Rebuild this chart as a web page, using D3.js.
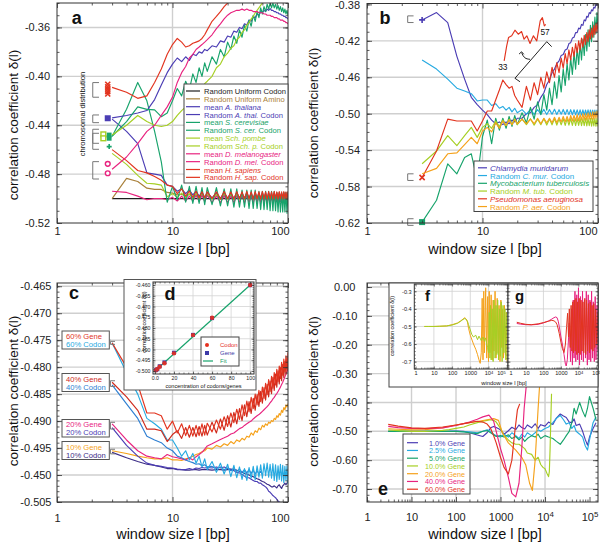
<!DOCTYPE html>
<html><head><meta charset="utf-8">
<script src="https://cdn.jsdelivr.net/npm/d3@7/dist/d3.min.js"></script>
<style>html,body{margin:0;padding:0;background:#fff;}svg{display:block;}</style>
</head><body><svg id="fig" width="600" height="542"></svg>
<script>
// ================= DATA =================
const win = [3,4,5,6,7,8,9,10,11,12,13,14,15,16,17,18,19,20,22,24,26,28,30,32,34,36,38,40,42,44,46,48,50,52,54,56,58,60,62,64,66,68,70,72,74,76,78,80,82,84,86,88,90,92,94,96,98,100,102,104,106,108,110];

// ---- panel a ----
const aUniCodonX = [3, 110];
const aUniCodon = [-0.500, -0.500];
const aUniAmino = [-0.500,-0.4835,-0.486,-0.4915,-0.4925,-0.4925,-0.495,-0.4955,-0.497,-0.4965,
 -0.498,-0.4965,-0.4985,-0.497,-0.4985,-0.4975,-0.499,-0.4975,
 -0.4995,-0.4975,-0.4998,-0.4975,-0.4995,-0.4972,-0.4997,-0.4974,-0.4995,-0.4973,
 -0.4998,-0.4975,-0.4996,-0.4972,-0.4997,-0.4974,-0.4995,-0.4973,-0.4998,-0.4975,
 -0.4996,-0.4972,-0.4997,-0.4974,-0.4995,-0.4973,-0.4998,-0.4975,-0.4996,-0.4972,
 -0.4997,-0.4974,-0.4995,-0.4973,-0.4998,-0.4975,-0.4996,-0.4972,-0.4997,-0.4974,
 -0.4995,-0.4973,-0.4998,-0.4975,-0.4996];
const aMeanAth = [-0.434,-0.432,-0.430,-0.428,-0.419,-0.407,-0.397,-0.390,-0.385,-0.388,
 -0.384,-0.387,-0.382,-0.383,-0.380,-0.381,-0.378,-0.379,
 -0.375,-0.376,-0.371,-0.372,-0.367,-0.368,-0.363,-0.364,-0.360,-0.361,
 -0.357,-0.358,-0.354,-0.355,-0.351,-0.352,-0.349,-0.350,-0.347,-0.348,
 -0.346,-0.347,-0.345,-0.346,-0.3445,-0.346,-0.346,-0.347,-0.347,-0.348,
 -0.348,-0.349,-0.349,-0.350,-0.350,-0.351,-0.351,-0.352,-0.352,-0.353,
 -0.353,-0.354,-0.354,-0.355,-0.355];
const aRandAth = [-0.435,-0.445,-0.455,-0.479,-0.480,-0.481,-0.489,-0.490,-0.494,-0.492,
 -0.496,-0.493,-0.497,-0.494,-0.498,-0.495,-0.499,-0.495,
 -0.4995,-0.4955,-0.4998,-0.4952,-0.4996,-0.4956,-0.4999,-0.4953,-0.4995,-0.4955,
 -0.4998,-0.4952,-0.4996,-0.4956,-0.4999,-0.4953,-0.4995,-0.4955,-0.4998,-0.4952,
 -0.4996,-0.4956,-0.4999,-0.4953,-0.4995,-0.4955,-0.4998,-0.4952,-0.4996,-0.4956,
 -0.4999,-0.4953,-0.4995,-0.4955,-0.4998,-0.4952,-0.4996,-0.4956,-0.4999,-0.4953,
 -0.4995,-0.4955,-0.4998,-0.4952,-0.4996];
const aMeanScer = [-0.449,-0.437,-0.425,-0.427,-0.4275,-0.433,-0.430,-0.420,-0.410,-0.416,
 -0.404,-0.411,-0.398,-0.405,-0.393,-0.400,-0.389,-0.396,
 -0.384,-0.390,-0.378,-0.384,-0.372,-0.378,-0.367,-0.373,-0.362,-0.368,
 -0.358,-0.363,-0.354,-0.359,-0.350,-0.355,-0.347,-0.352,-0.344,-0.349,
 -0.343,-0.347,-0.341,-0.345,-0.340,-0.344,-0.340,-0.344,-0.341,-0.345,
 -0.342,-0.346,-0.343,-0.347,-0.344,-0.348,-0.345,-0.349,-0.346,-0.350,
 -0.347,-0.351,-0.348,-0.352,-0.349];
const aRandScer = [-0.449,-0.427,-0.405,-0.420,-0.445,-0.470,-0.503,-0.490,-0.501,-0.489,
 -0.503,-0.490,-0.504,-0.490,-0.504,-0.491,-0.505,-0.491,
 -0.505,-0.491,-0.506,-0.492,-0.506,-0.492,-0.507,-0.492,-0.507,-0.493,
 -0.507,-0.493,-0.508,-0.493,-0.508,-0.493,-0.508,-0.494,-0.509,-0.494,
 -0.509,-0.494,-0.509,-0.494,-0.510,-0.494,-0.510,-0.494,-0.510,-0.495,
 -0.511,-0.495,-0.511,-0.495,-0.511,-0.495,-0.511,-0.495,-0.512,-0.495,
 -0.512,-0.496,-0.512,-0.496,-0.512];
const aMeanSpo = [-0.448,-0.440,-0.432,-0.437,-0.440,-0.441,-0.440,-0.437,-0.432,-0.428,
 -0.425,-0.421,-0.419,-0.415,-0.412,-0.410,-0.406,-0.404,
 -0.400,-0.393,-0.390,-0.384,-0.381,-0.377,-0.375,-0.370,-0.368,-0.364,
 -0.362,-0.358,-0.356,-0.353,-0.351,-0.348,-0.346,-0.344,-0.342,-0.340,
 -0.338,-0.336];
const aRandSpo = [-0.463,-0.472,-0.481,-0.4875,-0.488,-0.489,-0.4985,-0.496,-0.499,-0.4955,
 -0.4995,-0.496,-0.500,-0.496,-0.500,-0.4965,-0.500,-0.4965,
 -0.5005,-0.4965,-0.5008,-0.4962,-0.5006,-0.4966,-0.5009,-0.4963,-0.5005,-0.4965,
 -0.5008,-0.4962,-0.5006,-0.4966,-0.5009,-0.4963,-0.5005,-0.4965,-0.5008,-0.4962,
 -0.5006,-0.4966,-0.5009,-0.4963,-0.5005,-0.4965,-0.5008,-0.4962,-0.5006,-0.4966,
 -0.5009,-0.4963,-0.5005,-0.4965,-0.5008,-0.4962,-0.5006,-0.4966,-0.5009,-0.4963,
 -0.5005,-0.4965,-0.5008,-0.4962,-0.5006];
const aMeanDme = [-0.476,-0.466,-0.455,-0.445,-0.440,-0.432,-0.425,-0.417,-0.405,-0.397,
 -0.392,-0.385,-0.382,-0.378,-0.376,-0.374,-0.372,-0.370,
 -0.366,-0.361,-0.357,-0.353,-0.350,-0.348,-0.347,-0.346,-0.346,-0.345,
 -0.346,-0.345,-0.346,-0.346,-0.347,-0.347,-0.347,-0.348,-0.348,-0.348,
 -0.349,-0.349,-0.350,-0.350,-0.350,-0.351,-0.351,-0.352,-0.352,-0.352,
 -0.353,-0.353,-0.354,-0.354,-0.354,-0.355,-0.355,-0.356,-0.356,-0.357,
 -0.357,-0.357,-0.358,-0.358,-0.358];
const aRandDme = [-0.494,-0.495,-0.498,-0.501,-0.500,-0.500,-0.501,-0.499,-0.502,-0.498,
 -0.502,-0.498,-0.502,-0.4975,-0.5025,-0.4975,-0.5025,-0.4975,
 -0.5030,-0.4980,-0.5032,-0.4978,-0.5031,-0.4981,-0.5033,-0.4979,-0.5030,-0.4980,
 -0.5032,-0.4978,-0.5031,-0.4981,-0.5033,-0.4979,-0.5030,-0.4980,-0.5032,-0.4978,
 -0.5031,-0.4981,-0.5033,-0.4979,-0.5030,-0.4980,-0.5032,-0.4978,-0.5031,-0.4981,
 -0.5033,-0.4979,-0.5030,-0.4980,-0.5032,-0.4978,-0.5031,-0.4981,-0.5033,-0.4979,
 -0.5030,-0.4980,-0.5032,-0.4978,-0.5031];
const aMeanHsa = [-0.409,-0.413,-0.418,-0.416,-0.405,-0.394,-0.382,-0.374,-0.369,-0.372,
 -0.376,-0.375,-0.373,-0.372,-0.371,-0.369,-0.366,-0.362,
 -0.355,-0.351,-0.347,-0.343,-0.340,-0.336,-0.332];
const aRandHsa = [-0.460,-0.469,-0.477,-0.479,-0.482,-0.485,-0.489,-0.490,-0.496,-0.492,
 -0.498,-0.494,-0.499,-0.494,-0.4995,-0.4945,-0.4995,-0.4945,
 -0.5000,-0.4945,-0.5003,-0.4942,-0.5001,-0.4946,-0.5004,-0.4943,-0.5000,-0.4945,
 -0.5003,-0.4942,-0.5001,-0.4946,-0.5004,-0.4943,-0.5000,-0.4945,-0.5003,-0.4942,
 -0.5001,-0.4946,-0.5004,-0.4943,-0.5000,-0.4945,-0.5003,-0.4942,-0.5001,-0.4946,
 -0.5004,-0.4943,-0.5000,-0.4945,-0.5003,-0.4942,-0.5001,-0.4946,-0.5004,-0.4943,
 -0.5000,-0.4945,-0.5003,-0.4942,-0.5001];
const aNames = ["Random Uniform Codon","Random Uniform Amino","mean *A. thaliana*","Random *A. thal.* Codon",
 "mean *S. cerevisiae*","Random *S. cer.* Codon","mean *Sch. pombe*","Random *Sch. p.* Codon",
 "mean *D. melanogaster*","Random *D. mel.* Codon","mean *H. sapiens*","Random *H. sap.* Codon"];
const aRedX = [-0.4065,-0.4085,-0.4105,-0.4125,-0.4145];
const aBlueSq = [-0.4343];
const aLimeSq = [-0.4475,-0.4507];
const aGreenSq = [-0.4480,-0.4507];
const aGreenPlus = [-0.4575];
const aMagCirc = [-0.4716,-0.4793];
const aBrackets = [[-0.4051,-0.4171],[-0.4316,-0.4379],[-0.4433,-0.4548],[-0.4466,-0.4597],[-0.4698,-0.4840]];
const aYTicks = [-0.36,-0.40,-0.44,-0.48,-0.52];
const aYLabels = ["-0.36","-0.40","-0.44","-0.48","-0.52"];

// ---- panel b ----
const bChla = [-0.397,-0.389,-0.400,-0.437,-0.462,-0.482,-0.490,-0.496,-0.501,-0.507,
 -0.511,-0.509,-0.512,-0.509,-0.511,-0.507,-0.509,-0.505,
 -0.505,-0.500,-0.499,-0.493,-0.490,-0.482,-0.477,-0.468,-0.463,-0.455,
 -0.451,-0.445,-0.442,-0.436,-0.435,-0.430,-0.429,-0.423,-0.422,-0.417,
 -0.416,-0.411,-0.411,-0.406,-0.407,-0.402,-0.403,-0.397,-0.398,-0.393,
 -0.394,-0.389,-0.390,-0.386,-0.387,-0.383,-0.384,-0.380,-0.381,-0.377];
const bRandCmu = [-0.441,-0.451,-0.462,-0.472,-0.475,-0.478,-0.486,-0.485,-0.485,-0.491,
 -0.489,-0.494,-0.492,-0.496,-0.493,-0.498,-0.494,-0.499,
 -0.4955,-0.5005,-0.4952,-0.5008,-0.4956,-0.5006,-0.4953,-0.5009,-0.4955,-0.5005,
 -0.4952,-0.5008,-0.4956,-0.5006,-0.4953,-0.5009,-0.4955,-0.5010,-0.4956,-0.5012,
 -0.4957,-0.5011,-0.4958,-0.5013,-0.4957,-0.5014,-0.4958,-0.5015,-0.4959,-0.5016,
 -0.4958,-0.5017,-0.4959,-0.5018,-0.4960,-0.5019,-0.4960,-0.5020,-0.4960,-0.5020];
const bMyco = [-0.619,-0.595,-0.555,-0.566,-0.548,-0.544,-0.573,-0.525,-0.507,-0.533,
 -0.505,-0.518,-0.505,-0.516,-0.503,-0.514,-0.502,-0.512,
 -0.499,-0.510,-0.493,-0.506,-0.487,-0.501,-0.479,-0.496,-0.472,-0.490,
 -0.465,-0.483,-0.458,-0.476,-0.451,-0.469,-0.445,-0.463,-0.439,-0.457,
 -0.433,-0.451,-0.428,-0.446,-0.423,-0.441,-0.418,-0.436,-0.413,-0.431,
 -0.408,-0.426,-0.403,-0.421,-0.399,-0.416,-0.394,-0.412,-0.389,-0.407];
const bRandMtu = [-0.555,-0.541,-0.524,-0.535,-0.524,-0.515,-0.526,-0.515,-0.511,-0.516,
 -0.508,-0.514,-0.507,-0.513,-0.506,-0.512,-0.506,-0.512,
 -0.5060,-0.5120,-0.5055,-0.5125,-0.5060,-0.5120,-0.5055,-0.5125,-0.5058,-0.5122,
 -0.5055,-0.5125,-0.5058,-0.5122,-0.5055,-0.5128,-0.5056,-0.5125,-0.5053,-0.5128,
 -0.5056,-0.5130,-0.5053,-0.5128,-0.5052,-0.5132,-0.5053,-0.5130,-0.5050,-0.5134,
 -0.5052,-0.5132,-0.5050,-0.5136,-0.5051,-0.5134,-0.5050,-0.5138,-0.5050,-0.5140];
const bPseu = [-0.570,-0.541,-0.506,-0.508,-0.508,-0.508,-0.519,-0.508,-0.497,-0.497,
 -0.485,-0.474,-0.463,-0.468,-0.472,-0.470,-0.480,-0.485,
 -0.493,-0.470,-0.485,-0.466,-0.479,-0.460,-0.472,-0.454,-0.466,-0.449,
 -0.460,-0.444,-0.455,-0.439,-0.450,-0.434,-0.445,-0.430,-0.441,-0.427,
 -0.437,-0.423,-0.433,-0.420,-0.430,-0.417,-0.427,-0.414,-0.424,-0.411,
 -0.421,-0.408,-0.418,-0.406,-0.416,-0.403,-0.413,-0.401,-0.410,-0.399];
const bRandPae = [-0.566,-0.560,-0.544,-0.543,-0.534,-0.526,-0.533,-0.519,-0.515,-0.520,
 -0.510,-0.516,-0.508,-0.513,-0.507,-0.512,-0.506,-0.511,
 -0.506,-0.511,-0.506,-0.511,-0.505,-0.511,-0.505,-0.510,-0.505,-0.510,
 -0.504,-0.510,-0.504,-0.509,-0.503,-0.509,-0.503,-0.509,-0.502,-0.508,
 -0.502,-0.508,-0.501,-0.508,-0.501,-0.507,-0.500,-0.507,-0.500,-0.507,
 -0.499,-0.506,-0.499,-0.506,-0.498,-0.506,-0.498,-0.505,-0.497,-0.505];
const bZoomX = [15.4,16.2,16.8,17.9,19.1,20.4,21.8,22.9,24.2,25.8,27.6,29.5,31.6,33.0,34.3,35.3];
const bZoomY = [-0.4419,-0.4255,-0.4164,-0.4145,-0.4083,-0.4127,-0.4098,-0.4182,-0.4145,-0.4229,-0.4145,-0.4200,-0.3981,-0.3945,-0.4036,-0.4018];
const bNames = ["*Chlamydia muridarum*","Random *C. mur.* Codon","*Mycobacterium tuberculosis*","Random *M. tub.* Codon","*Pseudomonas aeruginosa*","Random *P. aer.* Codon"];
const bBrackets = [[-0.3926,-0.3999],[-0.5660,-0.5733],[-0.6153,-0.6226]];
const bYTicks = [-0.38,-0.42,-0.46,-0.50,-0.54,-0.58,-0.62];
const bYLabels = ["-0.38","-0.42","-0.46","-0.50","-0.54","-0.58","-0.62"];

// ---- panel c ----
const c60g = [-0.4755,-0.4800,-0.4832,-0.4885,-0.4885,-0.4890,-0.4915,-0.4900,-0.4922,-0.4905,
 -0.4927,-0.4908,-0.4928,-0.4908,-0.4927,-0.4905,-0.4926,-0.4904,
 -0.4920,-0.4898,-0.4915,-0.4892,-0.4910,-0.4885,-0.4903,-0.4878,-0.4897,-0.4870,
 -0.4890,-0.4863,-0.4883,-0.4856,-0.4877,-0.4850,-0.4870,-0.4843,-0.4864,-0.4837,
 -0.4858,-0.4830,-0.4851,-0.4823,-0.4845,-0.4817,-0.4839,-0.4810,-0.4833,-0.4804,
 -0.4827,-0.4798,-0.4821,-0.4791,-0.4815,-0.4785,-0.4809,-0.4779,-0.4803,-0.4773,
 -0.4797,-0.4767,-0.4791,-0.4762,-0.4786];
const c40g = [-0.4828,-0.4855,-0.4880,-0.4915,-0.4915,-0.4918,-0.4938,-0.4925,-0.4918,-0.4932,
 -0.4912,-0.4930,-0.4912,-0.4929,-0.4910,-0.4928,-0.4908,-0.4926,
 -0.4902,-0.4922,-0.4896,-0.4917,-0.4890,-0.4911,-0.4884,-0.4905,-0.4877,-0.4899,
 -0.4870,-0.4892,-0.4864,-0.4886,-0.4858,-0.4880,-0.4851,-0.4873,-0.4845,-0.4867,
 -0.4838,-0.4861,-0.4832,-0.4855,-0.4826,-0.4849,-0.4819,-0.4843,-0.4813,-0.4837,
 -0.4807,-0.4831,-0.4801,-0.4825,-0.4795,-0.4819,-0.4789,-0.4813,-0.4783,-0.4807,
 -0.4777,-0.4801,-0.4772,-0.4796,-0.4767];
const c60c = [-0.4755,-0.4810,-0.4850,-0.4895,-0.4905,-0.4915,-0.4935,-0.4935,-0.4950,-0.4965,
 -0.4955,-0.4972,-0.4960,-0.4978,-0.4965,-0.4985,-0.4970,-0.4990,
 -0.4975,-0.4995,-0.4978,-0.4998,-0.4980,-0.5003,-0.4982,-0.5005,-0.4985,-0.5008,
 -0.4988,-0.5010,-0.4986,-0.5006,-0.4984,-0.5009,-0.4983,-0.5004,-0.4981,-0.5006,
 -0.4979,-0.5001,-0.4978,-0.5004,-0.4980,-0.5006,-0.4979,-0.5010,-0.4981,-0.5012,
 -0.4983,-0.5008,-0.4980,-0.5011,-0.4982,-0.5014,-0.4984,-0.5010,-0.4983,-0.5015,
 -0.4986,-0.5012,-0.4988,-0.5016,-0.4990];
const c40c = [-0.4833,-0.4868,-0.4895,-0.4928,-0.4935,-0.4940,-0.4950,-0.4955,-0.4965,-0.4968,
 -0.4972,-0.4975,-0.4977,-0.4980,-0.4979,-0.4983,-0.4981,-0.4985,
 -0.4984,-0.4988,-0.4985,-0.4990,-0.4987,-0.4992,-0.4988,-0.4993,-0.4989,-0.4995,
 -0.4990,-0.4996,-0.4990,-0.4997,-0.4991,-0.4998,-0.4992,-0.4998,-0.4993,-0.4999];
const c20g = [-0.4905,-0.4935,-0.4955,-0.4965,-0.4968,-0.4970,-0.4962,-0.4966,-0.4968,-0.4970,
 -0.4972,-0.4968,-0.4972,-0.4966,-0.4962,-0.4958,-0.4952,-0.4946,
 -0.4942,-0.4938,-0.4934,-0.4931,-0.4928,-0.4924,-0.4922,-0.4918,-0.4914,-0.4912,
 -0.4908,-0.4905,-0.4902,-0.4900,-0.4896,-0.4893,-0.4890,-0.4888,-0.4885,-0.4882,
 -0.4879,-0.4876,-0.4873,-0.4870,-0.4866,-0.4863,-0.4859,-0.4856,-0.4852,-0.4849,
 -0.4845,-0.4841,-0.4837,-0.4832,-0.4828,-0.4823,-0.4818,-0.4813,-0.4808,-0.4803,
 -0.4798,-0.4793,-0.4790,-0.4786,-0.4782];
const c20c = [-0.4912,-0.4945,-0.4965,-0.4978,-0.4982,-0.4984,-0.4986,-0.4987,-0.4989,-0.4990,
 -0.4990,-0.4988,-0.4990,-0.4987,-0.4988,-0.4986,-0.4987,-0.4986,
 -0.4987,-0.4985,-0.4987,-0.4985,-0.4988,-0.4990,-0.4992,-0.4995,-0.4996,-0.4999,
 -0.5002,-0.5005,-0.5005,-0.5008,-0.5010,-0.5012,-0.5012,-0.5015,-0.5015,-0.5018,
 -0.5020,-0.5022,-0.5025,-0.5030,-0.5032,-0.5035,-0.5038,-0.5040,-0.5042,-0.5045,
 -0.5048,-0.5050,-0.5055,-0.5060,-0.5065];
const c10g = [-0.4955,-0.4960,-0.4965,-0.4968,-0.4970,-0.4970,-0.4968,-0.4972,-0.4972,-0.4973,
 -0.4970,-0.4968,-0.4965,-0.4962,-0.4960,-0.4957,-0.4955,-0.4950,
 -0.4952,-0.4945,-0.4948,-0.4942,-0.4945,-0.4938,-0.4942,-0.4935,-0.4938,-0.4932,
 -0.4935,-0.4928,-0.4930,-0.4922,-0.4926,-0.4918,-0.4921,-0.4913,-0.4916,-0.4908,
 -0.4911,-0.4905,-0.4908,-0.4902,-0.4904,-0.4899,-0.4901,-0.4895,-0.4897,-0.4890,
 -0.4893,-0.4886,-0.4889,-0.4880,-0.4884,-0.4875,-0.4879,-0.4870,-0.4874,-0.4868,
 -0.4872,-0.4870,-0.4874,-0.4872,-0.4876];
const c10c = [-0.4958,-0.4968,-0.4975,-0.4980,-0.4982,-0.4985,-0.4988,-0.4988,-0.4990,-0.4990,
 -0.4991,-0.4991,-0.4990,-0.4990,-0.4991,-0.4990,-0.4990,-0.4990,
 -0.4991,-0.4990,-0.4990,-0.4991,-0.4990,-0.4989,-0.4990,-0.4991,-0.4993,-0.4995,
 -0.4997,-0.4998,-0.5000,-0.5002,-0.5003,-0.5005,-0.5007,-0.5008,-0.5010,-0.5012,
 -0.5013,-0.5015,-0.5017,-0.5018,-0.5020,-0.5022,-0.5022,-0.5020,-0.5022,-0.5024,
 -0.5020,-0.5018,-0.5022,-0.5025,-0.5020,-0.5018,-0.5015,-0.5018,-0.5015,-0.5012,
 -0.5014,-0.5016,-0.5013,-0.5015,-0.5012];
const cYTicks = [-0.465,-0.470,-0.475,-0.480,-0.485,-0.490,-0.495,-0.500,-0.505];
const cYLabels = ["-0.465","-0.470","-0.475","-0.480","-0.485","-0.490","-0.495","-0.450","-0.505"];

// ---- panel d ----
const dConc = [1, 2.5, 5, 10, 20, 40, 60, 100];
const dCodon = [-0.4997,-0.4991,-0.4980,-0.4964,-0.4918,-0.4833,-0.4752,-0.4600];
const dGene = [-0.4996,-0.4992,-0.4978,-0.4960,-0.4915,-0.4832,-0.4754,-0.4601];
const dFitX = [0, 100];
const dFitY = [-0.500, -0.460];
const dYTicks = [-0.460,-0.465,-0.470,-0.475,-0.480,-0.485,-0.490,-0.495,-0.500];
const dYLabels = ["-0.460","-0.465","-0.470","-0.475","-0.480","-0.485","-0.490","-0.495","-0.500"];
const dXTicks = [0,20,40,60,80,100];
const dXLabels = ["0.0","20","40","60","80","100"];

// ---- panel e ----
const eXn = [3,5,10,20,50,100,150,200,300,400,500,600,700,800,1000,1200,1500,1800,2200,2600,3000,3500,4000,5000,6000,7000,8000,10000,12000,15000,18000,22000,26000,30000,35000,40000,45000,50000,60000,70000,80000,90000,100000,120000,140000];
const e1 = [-0.500,-0.500,-0.500,-0.500,-0.500,-0.499,-0.500,-0.505,-0.513,-0.518,
 -0.505,-0.488,-0.483,-0.487,-0.495,-0.510,-0.498,-0.486,-0.494,-0.478,
 -0.487,-0.492,-0.478,-0.488,-0.474,-0.490,-0.477,-0.482,-0.468,-0.476,
 -0.454,-0.440,-0.447,-0.452,-0.468,-0.470,-0.457,-0.480,-0.475,-0.500,
 -0.528,-0.548,-0.520,-0.490,-0.470];
const e2 = [-0.500,-0.500,-0.500,-0.500,-0.500,-0.500,-0.501,-0.502,-0.505,-0.500,
 -0.495,-0.500,-0.510,-0.515,-0.520,-0.510,-0.520,-0.505,-0.515,-0.525,
 -0.510,-0.520,-0.505,-0.515,-0.505,-0.495,-0.500,-0.490,-0.485,-0.470,
 -0.455,-0.445,-0.460,-0.475,-0.470,-0.490,-0.480,-0.500,-0.510,-0.520,
 -0.550,-0.565,-0.530,-0.470,-0.450];
const e3 = [-0.500,-0.500,-0.500,-0.500,-0.500,-0.500,-0.502,-0.505,-0.508,-0.500,
 -0.497,-0.505,-0.512,-0.518,-0.515,-0.520,-0.512,-0.525,-0.518,-0.530,
 -0.520,-0.535,-0.525,-0.515,-0.520,-0.510,-0.525,-0.515,-0.520,-0.525,
 -0.535,-0.545,-0.530,-0.515,-0.500,-0.470,-0.420,-0.440,-0.400,-0.430,
 -0.450,-0.420,-0.380,-0.420,-0.460];
const e4X = [3,5,10,20,30,50,70,100,150,200,300,400,500,600,700,800,1000,1200,1500,1800,2200,2600,3000,3500,4000,5000,6000,7000,8000,9000,10000,11000,12000,12500,13000,13500,14000];
const e4 = [-0.4955,-0.4975,-0.500,-0.500,-0.499,-0.497,-0.494,-0.490,-0.485,-0.478,
 -0.470,-0.465,-0.462,-0.460,-0.462,-0.468,-0.490,-0.515,-0.530,-0.540,
 -0.545,-0.545,-0.552,-0.560,-0.575,-0.580,-0.600,-0.590,-0.615,-0.625,
 -0.630,-0.645,-0.657,-0.640,-0.560,-0.460,-0.370];
const e5X = [3,5,10,20,50,100,200,300,500,700,900,1100,1500,2200,3000,3700,4500,5200,6000,7000,7600];
const e5 = [-0.491,-0.493,-0.495,-0.494,-0.488,-0.478,-0.470,-0.466,-0.460,-0.456,
 -0.462,-0.505,-0.540,-0.565,-0.590,-0.617,-0.680,-0.705,-0.600,-0.420,-0.335];
const e6X = [3,5,10,20,50,100,200,300,400,550,700,800,1000,1200,1500,1800,2200,2600,3000,3400,3800];
const e6 = [-0.483,-0.487,-0.490,-0.491,-0.488,-0.480,-0.468,-0.458,-0.450,-0.444,
 -0.465,-0.500,-0.560,-0.600,-0.660,-0.715,-0.727,-0.680,-0.560,-0.420,-0.340];
const e7X = [3,5,10,20,50,100,200,300,400,500,600,700,800,1000,1200,1500,1800,2100,2400,2700];
const e7 = [-0.476,-0.482,-0.488,-0.490,-0.485,-0.478,-0.470,-0.465,-0.468,-0.475,
 -0.490,-0.515,-0.540,-0.590,-0.625,-0.648,-0.600,-0.500,-0.425,-0.405];
const eNames = ["1.0% Gene","2.5% Gene","5.0% Gene","10.0% Gene","20.0% Gene","40.0% Gene","60.0% Gene"];
const eYTicks = [0,-0.1,-0.2,-0.3,-0.4,-0.5,-0.6,-0.7];
const eYLabels = ["0.00","-0.10","-0.20","-0.30","-0.40","-0.50","-0.60","-0.70"];
const logTicks = [1,10,100,1000,1e4,1e5];
const logLabels = ["1","10","100","1000","10^4","10^5"];

// ---- insets f, g ----
const fX10 = [3,5,10,20,50,100,200,300,400,500,600,700,800,1000,1200,1500,2000,2500,3000,4000,5000,6000,7000,8000,9000,10000,11000,12000,13000,14000,16000,18000,20000,23000,26000,29000,32000,36000,40000,45000,50000,56000,63000,70000,80000,90000,100000];
const f10 = [-0.500,-0.500,-0.500,-0.499,-0.497,-0.492,-0.482,-0.470,-0.460,-0.455,
 -0.460,-0.470,-0.490,-0.520,-0.545,-0.560,-0.550,-0.575,-0.555,-0.580,
 -0.560,-0.585,-0.565,-0.600,-0.620,-0.650,-0.420,-0.680,-0.380,-0.690,
 -0.400,-0.700,-0.350,-0.680,-0.380,-0.660,-0.350,-0.690,-0.400,-0.670,
 -0.360,-0.700,-0.380,-0.650,-0.400,-0.690,-0.420];
const fX20 = [3,5,10,20,50,100,200,300,400,500,600,700,800,1000,1500,2000,2500,3000,3500,4000,4500,5000,5500,6000,7000,8000,9000,10000,11000,12000,14000,16000,18000,20000,23000,26000,30000,34000,38000,43000,48000,54000,60000,67000,75000,85000,95000,105000];
const f20 = [-0.500,-0.500,-0.500,-0.499,-0.497,-0.490,-0.480,-0.468,-0.458,-0.450,
 -0.458,-0.475,-0.510,-0.550,-0.600,-0.630,-0.660,-0.690,-0.710,-0.650,
 -0.340,-0.690,-0.300,-0.650,-0.280,-0.680,-0.330,-0.700,-0.300,-0.650,
 -0.320,-0.690,-0.350,-0.640,-0.300,-0.680,-0.340,-0.650,-0.380,-0.700,
 -0.350,-0.620,-0.400,-0.680,-0.380,-0.660,-0.420,-0.700];
const gX40 = [3,5,10,20,50,100,200,300,400,500,600,700,800,1000,1200,1500,1800,2000,2300,2600,3000,3500,4000,4500,5000,5600,6300,7000,8000,9000,10000,11500,13000,15000,17000,19000,22000,25000,28000,32000,36000,40000,45000,50000,56000,63000,70000,80000,90000,100000,115000,130000];
const g40 = [-0.483,-0.487,-0.490,-0.491,-0.488,-0.480,-0.468,-0.458,-0.450,-0.446,
 -0.450,-0.470,-0.500,-0.560,-0.600,-0.660,-0.715,-0.725,-0.690,-0.600,
 -0.480,-0.700,-0.400,-0.720,-0.350,-0.680,-0.300,-0.700,-0.320,-0.690,
 -0.280,-0.720,-0.330,-0.690,-0.300,-0.700,-0.350,-0.680,-0.300,-0.720,
 -0.320,-0.690,-0.350,-0.700,-0.300,-0.680,-0.360,-0.700,-0.330,-0.690,
 -0.380,-0.640];
const gX60 = [3,5,10,20,50,100,200,300,400,500,600,700,800,1000,1200,1500,1800,2100,2400,2700,3000,3400,3800,4200,4700,5200,5800,6500,7200,8000,9000,10000,11000,12500,14000,16000,18000,20000,23000,26000,29000,33000,37000,42000,47000,53000,60000,67000,75000,85000,95000,110000,125000];
const g60 = [-0.476,-0.482,-0.488,-0.490,-0.485,-0.478,-0.470,-0.465,-0.468,-0.475,
 -0.490,-0.515,-0.540,-0.590,-0.625,-0.648,-0.600,-0.500,-0.425,-0.560,
 -0.400,-0.620,-0.380,-0.640,-0.360,-0.650,-0.350,-0.640,-0.340,-0.660,
 -0.360,-0.650,-0.340,-0.660,-0.350,-0.640,-0.360,-0.650,-0.340,-0.660,
 -0.350,-0.640,-0.370,-0.650,-0.360,-0.630,-0.380,-0.640,-0.370,-0.620,
 -0.400,-0.600,-0.420];
const fYTicks = [-0.3,-0.4,-0.5,-0.6,-0.7];
const fYLabels = ["-0.3","-0.4","-0.5","-0.6","-0.7"];

// ================= DRAWING =================
const C = {black:'#1e1e1e', brown:'#a9803a', indigo:'#4b3db4', green:'#17a36b', lime:'#a6cf24',
  magenta:'#e8237f', red:'#e2341f', cyan:'#27aae1', orange:'#f5a11a', blue:'#2e7fd2', navy:'#3b2c86'};
const FONT = '"Liberation Sans", Arial, Helvetica, sans-serif';
const svg = d3.select('#fig');
const defs = svg.append('defs');
let clipN = 0;

function panel(o){
  const x = (o.log ? d3.scaleLog() : d3.scaleLinear()).domain(o.xd).range([o.l, o.r]);
  const y = d3.scaleLinear().domain(o.yd).range([o.b, o.t]);
  const g = svg.append('g');
  g.append('rect').attr('x',o.l).attr('y',o.t).attr('width',o.r-o.l).attr('height',o.b-o.t).attr('fill','#fff');
  const grid = g.append('g').attr('stroke', o.gc || '#cfcfcf').attr('stroke-width', o.gw || 1.4);
  grid.selectAll('line.gx').data(o.gx || []).join('line').attr('class','gx')
    .attr('x1',d=>x(d)).attr('x2',d=>x(d)).attr('y1',o.t).attr('y2',o.b);
  grid.selectAll('line.gy').data(o.gy || []).join('line').attr('class','gy')
    .attr('y1',d=>y(d)).attr('y2',d=>y(d)).attr('x1',o.l).attr('x2',o.r);
  const id = 'clip' + (clipN++);
  defs.append('clipPath').attr('id', id).append('rect').attr('x',o.l).attr('y',o.t).attr('width',o.r-o.l).attr('height',o.b-o.t);
  const plot = g.append('g').attr('clip-path', `url(#${id})`);
  return {x, y, g, plot, o};
}

function series(p, xs, ys, color, w){
  const n = Math.min(xs.length, ys.length);
  const pts = d3.range(n).map(i => [xs[i], ys[i]]);
  p.plot.append('path').datum(pts).attr('fill','none').attr('stroke',color)
    .attr('stroke-width', w || 1.15).attr('stroke-linejoin','round')
    .attr('d', d3.line().x(d=>p.x(d[0])).y(d=>p.y(d[1])));
}

function axes(p){
  const {x, y, o} = p;
  const a = p.g.append('g').attr('color', o.ac || '#333');
  const major = o.major || 5, minor = o.minor || 2.5;
  const xMinor = o.log ? x.ticks().filter(v => !o.xTicks.some(t => Math.abs(t - v) < 1e-9 * t)) : (o.xMinor || []);
  const yMinor = o.yMinor || [];
  const mk = (fn, scale, vals, size, tr, labels, pad) => {
    const ax = fn(scale).tickValues(vals).tickSize(-size).tickPadding(pad || 3)
      .tickFormat(labels ? (d, i) => labels[i] : () => '');
    const gg = a.append('g').attr('transform', tr).call(ax);
    gg.select('.domain').remove();
    gg.attr('font-size', o.fs).attr('font-family', FONT);
    gg.selectAll('line').attr('stroke-width', o.tw || 0.8);
    gg.selectAll('text').attr('fill', '#222');
    return gg;
  };
  const bx = mk(d3.axisBottom, x, o.xTicks, major, `translate(0,${o.b})`, o.xLabels, o.xPad);
  mk(d3.axisBottom, x, xMinor, minor, `translate(0,${o.b})`);
  mk(d3.axisTop, x, o.xTicks, major, `translate(0,${o.t})`);
  mk(d3.axisTop, x, xMinor, minor, `translate(0,${o.t})`);
  const ly = mk(d3.axisLeft, y, o.yTicks, major, `translate(${o.l},0)`, o.yLabels, o.yPad);
  mk(d3.axisLeft, y, yMinor, minor, `translate(${o.l},0)`);
  mk(d3.axisRight, y, o.yTicks, major, `translate(${o.r},0)`);
  mk(d3.axisRight, y, yMinor, minor, `translate(${o.r},0)`);
  if (o.xLabels) {
    const texts = bx.selectAll('text');
    const n = texts.size();
    texts.each(function(d, i){
      const s = o.xLabels[i];
      const t = d3.select(this);
      if (s && s.includes('^')) {
        const parts = s.split('^');
        t.text(parts[0]);
        t.append('tspan').attr('dy', '-0.45em').attr('font-size', o.fs * 0.72).text(parts[1]);
      }
      if (o.lastEnd && i === n - 1) t.attr('text-anchor', 'end').attr('x', o.lastEnd);
      if (o.firstStart && i === 0) t.attr('text-anchor', 'start').attr('x', o.firstStart);
    });
  }
  if (o.yAnchor) ly.selectAll('text').attr('text-anchor', o.yAnchor).attr('x', o.yAnchorX);
  if (o.yTopShift) ly.selectAll('text').filter(d => y(d) < o.t + 4).attr('dy', null).attr('y', o.yTopShift);
  a.append('rect').attr('x',o.l).attr('y',o.t).attr('width',o.r-o.l).attr('height',o.b-o.t)
    .attr('fill','none').attr('stroke', o.fc || '#333').attr('stroke-width', o.fw || 1);
}

function rich(parent, x, y, str, o){
  const t = parent.append('text').attr('x', x).attr('y', y).attr('font-size', o.fs)
    .attr('font-family', FONT).attr('fill', o.color || '#000').attr('text-anchor', o.anchor || 'start')
    .attr('dominant-baseline', 'central');
  if (o.weight) t.attr('font-weight', o.weight);
  str.split('*').forEach((seg, i) => { if (seg) t.append('tspan').attr('font-style', i % 2 ? 'italic' : 'normal').text(seg); });
  return t;
}

function legend(box, items, o){
  const g = svg.append('g');
  g.append('rect').attr('x', box[0]).attr('y', box[1]).attr('width', box[2]-box[0]).attr('height', box[3]-box[1])
    .attr('fill', '#fff').attr('stroke', '#444').attr('stroke-width', 1);
  items.forEach((it, i) => {
    const yy = o.y0 + i * o.dy;
    if (it.mark === 'circle') g.append('circle').attr('cx', o.mx).attr('cy', yy).attr('r', 2).attr('fill', it.color);
    else if (it.mark === 'square') g.append('rect').attr('x', o.mx-2).attr('y', yy-2).attr('width', 4).attr('height', 4).attr('fill', it.color);
    else g.append('line').attr('x1', o.l1).attr('x2', o.l2).attr('y1', yy).attr('y2', yy).attr('stroke', it.color).attr('stroke-width', 1.2);
    rich(g, o.tx, yy, it.label, {fs: o.fs, color: it.tc || it.color, anchor: o.anchor});
  });
}

function mark(p, xv, yv, type, color, s){
  const cx = p.x(xv), cy = p.y(yv);
  const g = p.g;
  if (type === 'x') g.append('path').attr('d', `M${cx-s},${cy-s}L${cx+s},${cy+s}M${cx-s},${cy+s}L${cx+s},${cy-s}`).attr('stroke', color).attr('stroke-width', 1.6);
  else if (type === '+') g.append('path').attr('d', `M${cx-s},${cy}L${cx+s},${cy}M${cx},${cy-s}L${cx},${cy+s}`).attr('stroke', color).attr('stroke-width', 1.6);
  else if (type === 'sq') g.append('rect').attr('x', cx-s).attr('y', cy-s).attr('width', 2*s).attr('height', 2*s).attr('fill', color);
  else if (type === 'osq') g.append('rect').attr('x', cx-s).attr('y', cy-s).attr('width', 2*s).attr('height', 2*s).attr('fill', '#fff').attr('stroke', color).attr('stroke-width', 1.4);
  else if (type === 'oc') g.append('circle').attr('cx', cx).attr('cy', cy).attr('r', s).attr('fill', '#fff').attr('stroke', color).attr('stroke-width', 1.4);
  else if (type === 'c') g.append('circle').attr('cx', cx).attr('cy', cy).attr('r', s).attr('fill', color);
}

function brackets(p, ranges, xv, xa, color){
  ranges.forEach(r => {
    const x0 = p.x(xv), x1 = p.x(xa), y0 = p.y(r[0]), y1 = p.y(r[1]);
    p.g.append('path').attr('d', `M${x1},${y0}H${x0}V${y1}H${x1}`).attr('fill', 'none').attr('stroke', color).attr('stroke-width', 1);
  });
}

function label(x, y, txt, fs, opts){
  const t = svg.append('text').attr('x', x).attr('y', y).attr('font-size', fs).attr('font-family', FONT)
    .attr('text-anchor', (opts && opts.anchor) || 'middle').attr('fill', '#111').text(txt);
  if (opts && opts.rot) t.attr('transform', `rotate(-90,${x},${y})`);
  if (opts && opts.bold) t.attr('font-weight', 'bold');
  return t;
}

// ---------- Panel a ----------
const pa = panel({log:true, xd:[1,100], yd:[-0.52,-0.34], l:57, r:288, t:3, b:223, gx:[10], gy:[-0.36,-0.40,-0.44,-0.48],
  xTicks:[1,10,100], xLabels:["1","10","100"], yTicks:aYTicks, yLabels:aYLabels, yMinor:d3.range(-0.52,-0.339,0.01),
  fs:11, xPad:4.5, yPad:7, lastEnd:1});
const aCols = [C.black, C.brown, C.indigo, C.indigo, C.green, C.green, C.lime, C.lime, C.magenta, C.magenta, C.red, C.red];
series(pa, aUniCodonX, aUniCodon, C.black);
series(pa, win, aUniAmino, C.brown);
series(pa, win, aRandAth, C.indigo);
series(pa, win, aRandSpo, C.lime);
series(pa, win, aRandDme, C.magenta);
series(pa, win, aRandScer, C.green);
series(pa, win, aRandHsa, C.red);
series(pa, win, aMeanAth, C.indigo);
series(pa, win, aMeanScer, C.green);
series(pa, win, aMeanSpo, C.lime);
series(pa, win, aMeanDme, C.magenta);
series(pa, win, aMeanHsa, C.red);
brackets(pa, aBrackets, 2.04, 2.31, '#777');
aRedX.forEach(v => mark(pa, 2.75, v, 'x', C.red, 2.5));
aBlueSq.forEach(v => mark(pa, 2.75, v, 'sq', C.indigo, 3));
aLimeSq.forEach(v => mark(pa, 2.52, v, 'osq', C.lime, 2.4));
aGreenSq.forEach(v => mark(pa, 2.83, v, 'sq', C.green, 2.4));
aGreenPlus.forEach(v => mark(pa, 2.83, v, '+', C.green, 2.5));
aMagCirc.forEach(v => mark(pa, 2.75, v, 'oc', C.magenta, 2.4));
legend([184, 84, 288, 183], aNames.map((n, i) => ({label:n, color:aCols[i]})),
  {y0:91, dy:7.85, l1:186, l2:200, tx:204, fs:7.6});
axes(pa);
label(82, 114, 'chromosomal distribution', 7.6, {rot:true}).attr('dominant-baseline','central');

// ---------- Panel b ----------
const pb = panel({log:true, xd:[1,100], yd:[-0.62,-0.379], l:367, r:598, t:3.5, b:223, gx:[10], gy:[-0.42,-0.46,-0.50,-0.54,-0.58],
  xTicks:[1,10,100], xLabels:["1","10","100"], yTicks:bYTicks, yLabels:bYLabels, yMinor:d3.range(-0.62,-0.379,0.01),
  fs:11, xPad:4.5, yPad:7, lastEnd:-1, yTopShift:4});
const bCols = [C.indigo, C.cyan, C.green, C.lime, C.red, C.orange];
series(pb, win, bChla, C.indigo);
series(pb, win, bRandCmu, C.cyan);
series(pb, win, bMyco, C.green);
series(pb, win, bRandMtu, C.lime);
series(pb, win, bPseu, C.red);
series(pb, win, bRandPae, C.orange);
series(pb, bZoomX, bZoomY, C.red);
brackets(pb, bBrackets, 2.25, 2.53, '#777');
mark(pb, 3, bChla[0], '+', C.indigo, 3);
mark(pb, 3, bPseu[0], 'x', C.red, 2.6);
mark(pb, 3, bMyco[0], 'sq', C.green, 3);
pb.g.append('path').datum([[21.1,-0.4649],[19.1,-0.4611],[36.0,-0.4209],[39.7,-0.4264]])
  .attr('fill','none').attr('stroke','#222').attr('stroke-width',1)
  .attr('d', d3.line().x(d=>pb.x(d[0])).y(d=>pb.y(d[1])));
pb.g.append('path').datum([[25.8,-0.4403],[23.0,-0.4395],[21.8,-0.4330]])
  .attr('fill','none').attr('stroke','#222').attr('stroke-width',1)
  .attr('d', d3.line().curve(d3.curveBasis).x(d=>pb.x(d[0])).y(d=>pb.y(d[1])));
pb.g.append('path').attr('d', `M${pb.x(21.8)-2.5},${pb.y(-0.4345)}L${pb.x(21.8)},${pb.y(-0.4320)}L${pb.x(21.8)+2.2},${pb.y(-0.4348)}`)
  .attr('fill','none').attr('stroke','#222').attr('stroke-width',1);
legend([474, 161, 593, 211.5], bNames.map((n, i) => ({label:n, color:bCols[i]})),
  {y0:167.8, dy:7.75, l1:478, l2:487, tx:490, fs:8});
axes(pb);
label(pb.x(15.0), pb.y(-0.4487) + 3, '33', 8.4);
label(pb.x(34.8), pb.y(-0.4103) + 3, '57', 8.4);

// ---------- Panel c ----------
const pc = panel({log:true, xd:[1,100], yd:[-0.505,-0.4644], l:57, r:288, t:283, b:502, gx:[10], gy:cYTicks,
  xTicks:[1,10,100], xLabels:["1","10","100"], yTicks:cYTicks, yLabels:cYLabels, yMinor:d3.range(-0.505,-0.4644,0.001),
  fs:11, xPad:12, yPad:5.5, lastEnd:1});
series(pc, win, c10c, C.navy);
series(pc, win, c10g, C.orange);
series(pc, win, c20c, C.indigo);
series(pc, win, c20g, C.magenta);
series(pc, win, c40c, C.blue);
series(pc, win, c60c, C.cyan);
series(pc, win, c40g, '#cf2a1c');
series(pc, win, c60g, C.red);
const cBoxes = [
  {t:331, b:349, names:["60% Gene","60% Codon"], cols:[C.red, C.cyan], s:[c60g[0], c60c[0]]},
  {t:373.5, b:391.5, names:["40% Gene","40% Codon"], cols:['#cf2a1c', C.blue], s:[c40g[0], c40c[0]]},
  {t:419.5, b:437, names:["20% Gene","20% Codon"], cols:[C.magenta, C.indigo], s:[c20g[0], c20c[0]]},
  {t:441.5, b:459.5, names:["10% Gene","10% Codon"], cols:[C.orange, C.navy], s:[c10g[0], c10c[0]]}
];
axes(pc);
cBoxes.forEach(bx => {
  const g = svg.append('g');
  g.append('rect').attr('x', 62).attr('y', bx.t).attr('width', 47.3).attr('height', bx.b - bx.t)
    .attr('fill', '#fff').attr('stroke', '#555').attr('stroke-width', 1);
  const mid = (bx.t + bx.b) / 2;
  rich(g, 66, mid - 3.9, bx.names[0], {fs:7.6, color:bx.cols[0]});
  rich(g, 66, mid + 4.1, bx.names[1], {fs:7.6, color:bx.cols[1]});
  const ya = Math.min(pc.y(bx.s[0]), pc.y(bx.s[1])) - 1.5, yb = Math.max(pc.y(bx.s[0]), pc.y(bx.s[1])) + 1.5;
  const xv = pc.x(2.9), xa = pc.x(3.18);
  g.append('path').attr('d', `M109.3,${mid}H${xv}M${xa},${ya}H${xv}V${yb}H${xa}`).attr('fill','none').attr('stroke','#777').attr('stroke-width',1);
});

// ---------- Panel d (inset) ----------
svg.append('rect').attr('x', 124).attr('y', 279.5).attr('width', 132).attr('height', 110.5).attr('fill', '#fff').attr('stroke', '#555').attr('stroke-width', 1);
const pd = panel({log:false, xd:[-2,104], yd:[-0.5014,-0.4586], l:153, r:254, t:282, b:374, gx:dXTicks, gy:dYTicks, gw:0.8, gc:'#d4d4d4',
  xTicks:dXTicks, xLabels:dXLabels, yTicks:dYTicks, yLabels:dYLabels, fs:5.2, xPad:2.2, yPad:2.5, major:2.5, minor:1.5,
  xMinor:d3.range(0,104,5), yMinor:d3.range(-0.500,-0.4586,0.001), tw:0.6});
series(pd, dFitX, dFitY, C.green, 1.2);
dConc.forEach((c, i) => {
  const gx = pd.x(c), gy = pd.y(dGene[i]);
  pd.g.append('rect').attr('x', gx-2).attr('y', gy-2).attr('width', 4).attr('height', 4).attr('fill', '#3d3aa8');
  pd.g.append('circle').attr('cx', pd.x(c)).attr('cy', pd.y(dCodon[i])).attr('r', 2.2).attr('fill', '#e5301f').attr('opacity', 0.9);
});
axes(pd);
legend([201, 337, 239, 366], [{label:'Codon', color:'#e5301f', mark:'circle'}, {label:'Gene', color:'#3d3aa8', mark:'square'}, {label:'Fit', color:C.green}],
  {y0:345, dy:8, mx:207, l1:203, l2:213, tx:220, fs:6});
label(145.5, 322, 'correlation coefficient δ(l)', 5.5, {rot:true});
label(203.5, 388, 'concentration of codons/genes', 5.6);

// ---------- Panel e ----------
const pe = panel({log:true, xd:[1,1.55e5], yd:[-0.745,0.014], l:367, r:598, t:283, b:502, gx:[10,100,1000,1e4], gy:eYTicks,
  xTicks:logTicks, xLabels:logLabels, yTicks:eYTicks, yLabels:eYLabels, yMinor:d3.range(-0.74,0.01,0.02),
  fs:11, xPad:11, yPad:12, yAnchor:'middle', yAnchorX:-22.3});
series(pe, eXn, e1, C.indigo);
series(pe, eXn, e2, C.cyan);
series(pe, eXn, e3, C.green);
series(pe, e4X, e4, C.lime);
series(pe, e5X, e5, C.orange);
series(pe, e6X, e6, C.magenta);
series(pe, e7X, e7, C.red);
axes(pe);
const eCols = [C.indigo, C.cyan, C.green, C.lime, C.orange, C.magenta, C.red];
legend([403, 434, 470, 494], eNames.map((n, i) => ({label:n, color:eCols[i]})),
  {y0:442.7, dy:7.75, l1:407, l2:418, tx:465, fs:7.2, anchor:'end'});

// ---------- Insets f, g ----------
svg.append('rect').attr('x', 389).attr('y', 283).attr('width', 209).attr('height', 104).attr('fill', '#fff').attr('stroke', '#444').attr('stroke-width', 1);
const pf = panel({log:true, xd:[0.84,1.18e5], yd:[-0.742,-0.2585], l:414.3, r:508, t:284, b:369, gx:[10,100,1000,1e4], gy:fYTicks, gw:0.8, gc:'#d0d0d0',
  xTicks:logTicks, xLabels:logLabels, yTicks:fYTicks, yLabels:fYLabels, fs:5.6, xPad:2.5, yPad:2.6, major:2.5, minor:1.5,
  yMinor:d3.range(-0.74,-0.26,0.02), tw:0.6, lastEnd:-1.5});
series(pf, fX20, f20, C.orange, 1);
series(pf, fX10, f10, C.lime, 1);
axes(pf);
const pg = panel({log:true, xd:[0.95,1.3e5], yd:[-0.742,-0.2585], l:508, r:598, t:284, b:369, gx:[10,100,1000,1e4], gy:fYTicks, gw:0.8, gc:'#d0d0d0',
  xTicks:logTicks, xLabels:logLabels, yTicks:fYTicks, yLabels:null, fs:5.6, xPad:2.5, yPad:2.6, major:2.5, minor:1.5,
  yMinor:d3.range(-0.74,-0.26,0.02), tw:0.6, firstStart:0.5});
series(pg, gX40, g40, C.magenta, 1);
series(pg, gX60, g60, C.red, 1);
axes(pg);
label(393.5, 326, 'correlation coefficient δ(l)', 5.4, {rot:true});
label(504, 384.5, 'window size l [bp]', 5.8);

// ---------- axis titles & panel letters ----------
label(17.5, 125, 'correlation coefficient δ(l)', 13.5, {rot:true});
label(317.5, 123, 'correlation coefficient δ(l)', 13.5, {rot:true});
label(17.5, 391, 'correlation coefficient δ(l)', 13.5, {rot:true});
label(317.5, 391.5, 'correlation coefficient δ(l)', 13.5, {rot:true});
label(173, 253.5, 'window size l [bp]', 14.5);
label(485, 253.5, 'window size l [bp]', 14.5);
label(173, 538.5, 'window size l [bp]', 14.5);
label(485, 538.5, 'window size l [bp]', 14.5);
label(76.7, 24, 'a', 18, {bold:true});
label(385, 24, 'b', 18, {bold:true});
label(74, 298.5, 'c', 18, {bold:true});
label(170, 299.5, 'd', 18, {bold:true});
label(383, 494.5, 'e', 18, {bold:true});
label(427.5, 301, 'f', 15, {bold:true});
label(519.5, 301, 'g', 15, {bold:true});
</script></body></html>
